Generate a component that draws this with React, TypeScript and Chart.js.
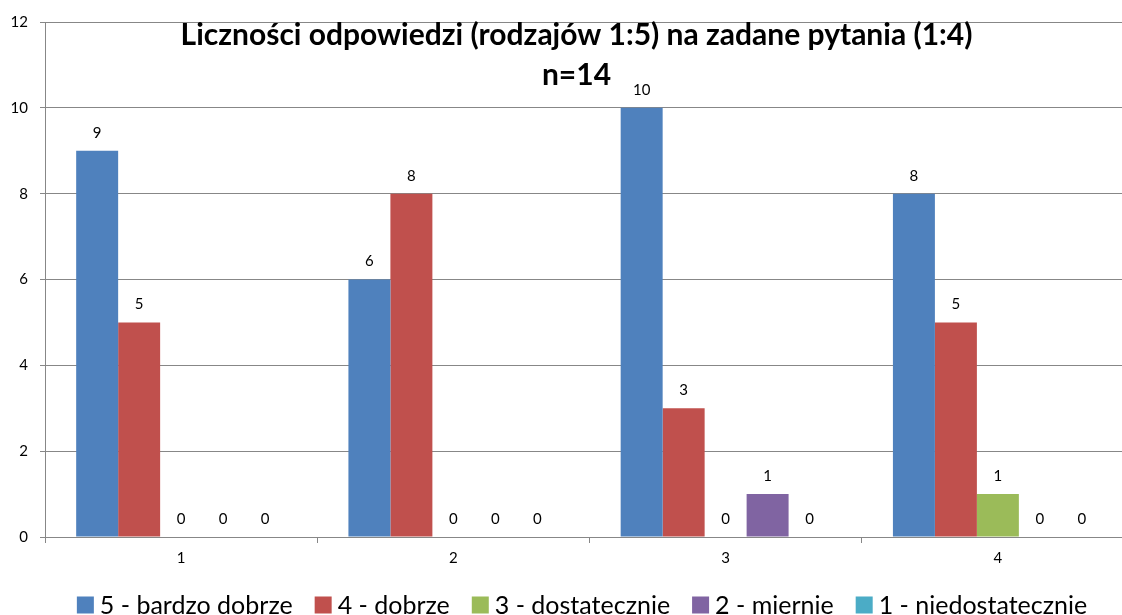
import React, { useEffect, useRef } from "react";
import { Chart, registerables } from "chart.js";

Chart.register(...registerables);

const categories = ["1", "2", "3", "4"];
const seriesLabels = [
  "5 - bardzo dobrze",
  "4 - dobrze",
  "3 - dostatecznie",
  "2 - miernie",
  "1 - niedostatecznie",
];
const seriesColors = ["#4F81BD", "#C0504D", "#9BBB59", "#8064A2", "#4BACC6"];
const s5 = [9, 6, 10, 8];
const s4 = [5, 8, 3, 5];
const s3 = [0, 0, 0, 1];
const s2 = [0, 0, 1, 0];
const s1 = [0, 0, 0, 0];
const seriesValues = [s5, s4, s3, s2, s1];
const titleLines = ["Liczności odpowiedzi (rodzajów 1:5) na zadane pytania (1:4)", "n=14"];
const yTicks = [0, 2, 4, 6, 8, 10, 12];

const FONT = "Lato, Carlito, 'Noto Sans', sans-serif";
const GRID = "#878787";

const W = 1153;
const H = 615;

const dataLabelPlugin = {
  id: "dataLabels",
  afterDatasetsDraw(chart: any) {
    const ctx = chart.ctx;
    ctx.save();
    ctx.font = `15px ${FONT}`;
    ctx.fillStyle = "#000";
    ctx.textAlign = "center";
    ctx.textBaseline = "middle";
    chart.data.datasets.forEach((ds: any, i: number) => {
      const meta = chart.getDatasetMeta(i);
      meta.data.forEach((el: any, j: number) => {
        ctx.fillText(String(ds.data[j]), el.x, el.y - 18);
      });
    });
    ctx.restore();
  },
};

const titlePlugin = {
  id: "overlayTitle",
  afterDraw(chart: any) {
    const ctx = chart.ctx;
    ctx.save();
    ctx.font = `bold 30px ${FONT}`;
    ctx.fillStyle = "#000";
    ctx.textAlign = "center";
    ctx.textBaseline = "alphabetic";
    const cx = chart.width / 2;
    ctx.fillText(titleLines[0], cx, 45);
    ctx.fillText(titleLines[1], cx, 85);
    ctx.restore();
  },
};

const legendPlugin = {
  id: "customLegend",
  afterDraw(chart: any) {
    const ctx = chart.ctx;
    ctx.save();
    ctx.font = `25px ${FONT}`;
    ctx.textBaseline = "middle";
    ctx.textAlign = "left";
    const box = 17;
    const gapBoxText = 6;
    const gapItems = 22;
    const items = chart.data.datasets.map((ds: any) => ({
      label: ds.label,
      color: ds.backgroundColor,
      w: ctx.measureText(ds.label).width,
    }));
    const total =
      items.reduce((a: number, it: any) => a + box + gapBoxText + it.w, 0) +
      gapItems * (items.length - 1);
    let x = 582 - total / 2;
    const cy = 605;
    items.forEach((it: any) => {
      ctx.fillStyle = it.color;
      ctx.fillRect(x, cy - box / 2, box, box);
      ctx.fillStyle = "#000";
      ctx.fillText(it.label, x + box + gapBoxText, cy + 1);
      x += box + gapBoxText + it.w + gapItems;
    });
    ctx.restore();
  },
};

export default function App() {
  const ref = useRef<HTMLCanvasElement | null>(null);
  useEffect(() => {
    if (!ref.current) return;
    const chart = new Chart(ref.current, {
      type: "bar",
      data: {
        labels: categories,
        datasets: seriesLabels.map((label, i) => ({
          label,
          data: seriesValues[i],
          backgroundColor: seriesColors[i],
          borderWidth: 0,
          categoryPercentage: 0.771,
          barPercentage: 1,
        })),
      },
      options: {
        responsive: false,
        animation: false,
        layout: { padding: { top: 22, right: 19, left: 0, bottom: 0 } },
        plugins: {
          legend: { display: false },
          title: { display: false },
          tooltip: { enabled: false },
        },
        scales: {
          x: {
            grid: {
              display: true,
              drawOnChartArea: false,
              drawTicks: true,
              tickLength: 6,
              color: GRID,
              offset: true,
            },
            border: { display: true, color: GRID },
            ticks: {
              color: "#000",
              font: { family: FONT, size: 15 },
              padding: 6,
            },
            afterFit(scale: any) {
              scale.height = 78;
            },
          },
          y: {
            min: 0,
            max: 12,
            afterBuildTicks(scale: any) {
              scale.ticks = yTicks.map((v) => ({ value: v }));
            },
            grid: {
              color: GRID,
              drawTicks: true,
              tickLength: 5,
            },
            border: { display: true, color: GRID },
            ticks: {
              color: "#000",
              font: { family: FONT, size: 15 },
              padding: 12,
            },
            afterFit(scale: any) {
              scale.width = 45;
            },
          },
        },
      },
      plugins: [dataLabelPlugin, titlePlugin, legendPlugin],
    });
    return () => chart.destroy();
  }, []);
  return (
    <div
      style={{
        position: "absolute",
        left: 0,
        top: 0,
        width: 1122,
        height: 615,
        overflow: "hidden",
        background: "#fff",
      }}
    >
      <canvas ref={ref} width={W} height={H} style={{ display: "block" }} />
    </div>
  );
}
